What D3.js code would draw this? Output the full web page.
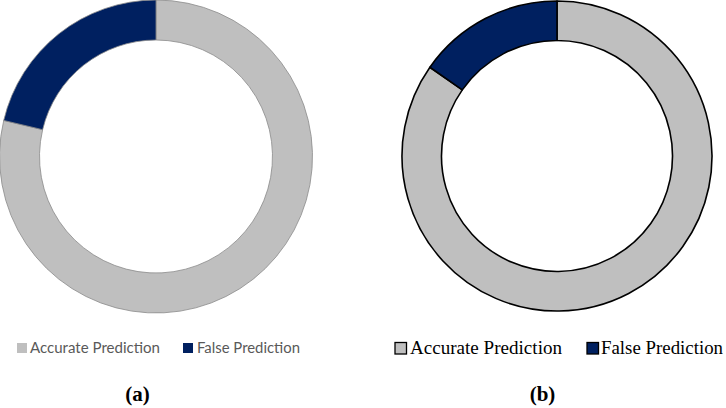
<!DOCTYPE html>
<html>
<head>
<meta charset="utf-8">
<script src="https://cdn.jsdelivr.net/npm/d3@7/dist/d3.min.js"></script>
<style>
  html, body { margin: 0; padding: 0; background: #fff; }
  svg { display: block; }
</style>
</head>
<body>
<svg id="chart" width="726" height="408"></svg>
<script>
// ---- data ----
const categories = ["Accurate Prediction", "False Prediction"];
const valuesA = [78.7, 21.3];
const valuesB = [84.7, 15.3];
const panelLabels = ["(a)", "(b)"];
const colors = ["#bfbfbf", "#002060"];

const svg = d3.select("#chart");
const color = d3.scaleOrdinal().domain(categories).range(colors);
const pie = d3.pie().sort(null).value(d => d.value).startAngle(0).endAngle(2 * Math.PI);

const panels = [
  { values: valuesA, cx: 156, cy: 156.5, outer: 156.5, inner: 116.5, stroke: "#8a8a8a", sw: 0.8,
    legend: { font: "Lato, 'Open Sans', sans-serif", size: 15.5, fill: "#595959", weight: 400,
      items: [{ sx: 17, tx: 30, tw: 130 }, { sx: 183, tx: 197, tw: 103 }], sq: 10, sqy: 343, base: 353,
      sqStroke: "none", sqSw: 0 },
    label: { x: 137.5, y: 401 } },
  { values: valuesB, cx: 557, cy: 156, outer: 155, inner: 115.5, stroke: "#000", sw: 1.6,
    legend: { font: "'Liberation Serif', 'Times New Roman', serif", size: 19.5, fill: "#000", weight: 400,
      items: [{ sx: 395, tx: 410, tw: 152 }, { sx: 587, tx: 601, tw: 122 }], sq: 11.5, sqy: 342.5, base: 354,
      sqStroke: "#000", sqSw: 1.3 },
    label: { x: 542.5, y: 401 } }
];

panels.forEach((p, i) => {
  const data = categories.map((c, k) => ({ name: c, value: p.values[k] }));
  const arc = d3.arc().innerRadius(p.inner).outerRadius(p.outer);
  const g = svg.append("g").attr("transform", `translate(${p.cx},${p.cy})`);
  g.selectAll("path").data(pie(data)).join("path")
    .attr("d", arc)
    .attr("fill", d => color(d.data.name))
    .attr("stroke", p.stroke)
    .attr("stroke-width", p.sw)
    .attr("stroke-linejoin", "round");

  const L = p.legend;
  const lg = svg.append("g");
  categories.forEach((c, k) => {
    const it = L.items[k];
    lg.append("rect")
      .attr("x", it.sx).attr("y", L.sqy)
      .attr("width", L.sq).attr("height", L.sq)
      .attr("fill", color(c))
      .attr("stroke", L.sqStroke).attr("stroke-width", L.sqSw);
    lg.append("text")
      .attr("x", it.tx).attr("y", L.base)
      .attr("font-family", L.font)
      .attr("font-size", L.size)
      .attr("font-weight", L.weight)
      .attr("fill", L.fill)
      .attr("textLength", it.tw)
      .attr("lengthAdjust", "spacingAndGlyphs")
      .text(c);
  });

  svg.append("text")
    .attr("x", p.label.x).attr("y", p.label.y)
    .attr("text-anchor", "middle")
    .attr("font-family", "'Liberation Serif', 'Times New Roman', serif")
    .attr("font-weight", "bold")
    .attr("font-size", 21)
    .attr("fill", "#000")
    .text(panelLabels[i]);
});
</script>
</body>
</html>
